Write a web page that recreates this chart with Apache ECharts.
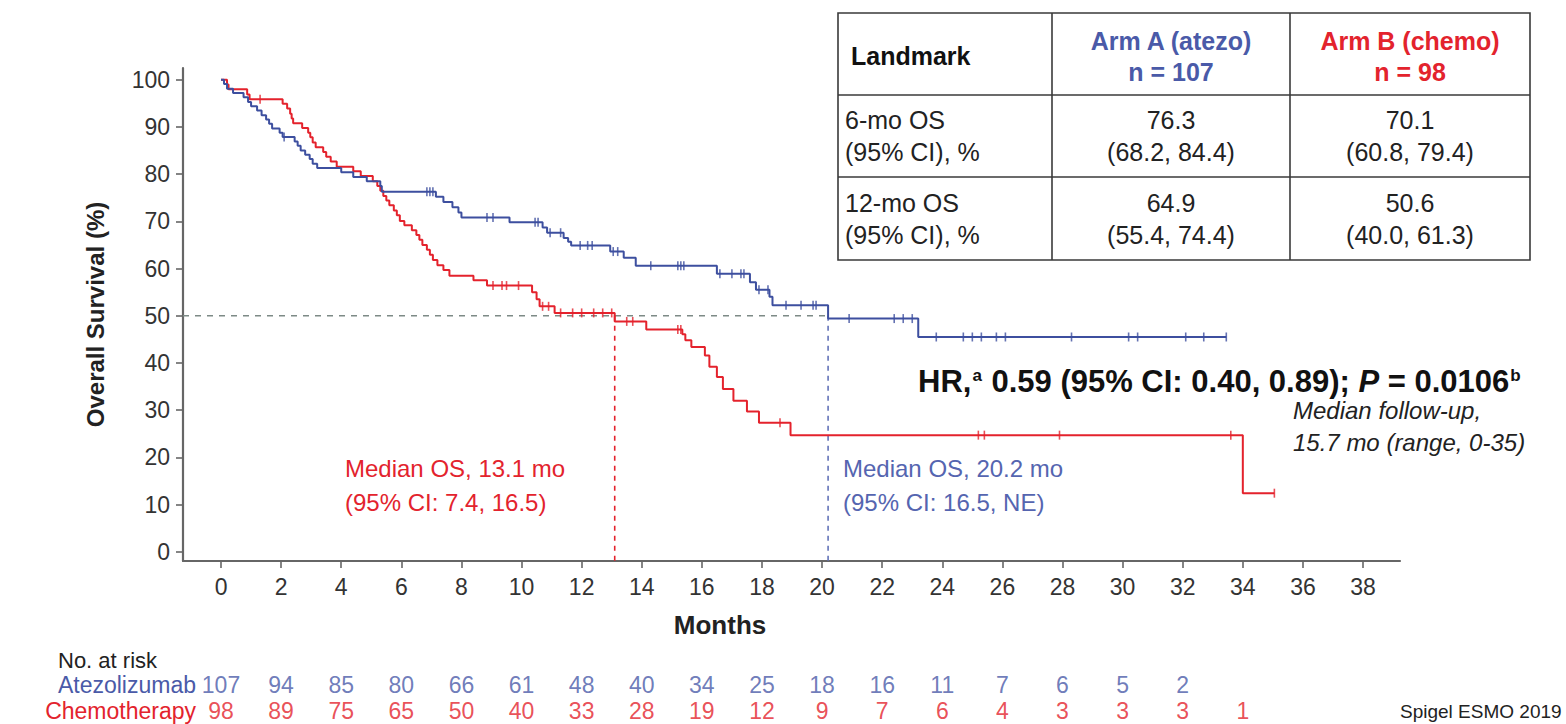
<!DOCTYPE html>
<html>
<head>
<meta charset="utf-8">
<script src="https://cdn.jsdelivr.net/npm/echarts@6/dist/echarts.min.js"></script>
<style>
  html, body { margin: 0; padding: 0; background: #fff; }
  #chart { width: 1566px; height: 724px; }
</style>
</head>
<body>
<div id="chart"></div>
<script>
// ---- Data -------------------------------------------------------------
const monthTicks = [0, 2, 4, 6, 8, 10, 12, 14, 16, 18, 20, 22, 24, 26, 28, 30, 32, 34, 36, 38];
const survivalTicks = [0, 10, 20, 30, 40, 50, 60, 70, 80, 90, 100];

// Kaplan-Meier steps: [month of event, survival % after the event]
const atezoCurve = [
  [0, 100], [0.1, 99.1], [0.2, 98.1], [0.4, 97.2], [0.75, 96.3], [0.9, 95.3], [1.0, 94.4],
  [1.2, 93.5], [1.35, 92.5], [1.5, 91.6], [1.6, 90.7], [1.7, 89.7], [1.95, 88.8], [2.05, 87.9],
  [2.45, 86.9], [2.55, 86.0], [2.65, 85.0], [2.8, 84.1], [2.95, 83.2], [3.05, 82.2], [3.2, 81.3],
  [4.0, 80.4], [4.4, 79.4], [4.85, 78.5], [5.3, 77.5], [5.35, 76.3],
  [7.15, 75.2], [7.4, 74.1], [7.7, 73.0], [7.9, 71.9], [8.0, 70.8],
  [9.6, 69.8], [10.7, 68.7], [10.85, 67.6], [11.4, 66.5], [11.55, 65.7], [11.65, 64.9],
  [12.95, 63.6], [13.4, 62.3], [13.8, 60.6],
  [16.5, 58.9], [17.6, 57.1], [17.8, 55.5], [18.25, 54.0], [18.35, 52.2],
  [20.2, 49.4], [23.2, 45.5]
];
const chemoCurve = [
  [0, 100], [0.2, 99.0], [0.25, 98.0], [0.87, 96.9], [0.95, 95.9],
  [2.05, 94.9], [2.2, 93.9], [2.3, 92.8], [2.35, 91.8], [2.4, 90.8], [2.7, 89.8], [2.9, 88.8],
  [2.97, 87.8], [3.05, 86.7], [3.15, 85.7], [3.4, 84.7], [3.5, 83.7], [3.65, 82.7], [3.85, 81.6],
  [4.4, 80.6], [4.65, 79.6], [5.05, 78.5], [5.2, 77.5], [5.3, 76.5], [5.4, 75.4], [5.5, 74.4],
  [5.6, 73.4], [5.75, 72.3], [5.85, 71.3], [5.95, 70.1], [6.1, 69.2], [6.35, 68.1], [6.5, 67.1],
  [6.6, 66.1], [6.7, 65.0], [6.85, 64.0], [6.95, 62.9], [7.05, 61.8], [7.2, 60.7], [7.4, 59.7],
  [7.6, 58.5], [8.4, 57.5], [8.85, 56.4],
  [10.35, 55.0], [10.5, 53.5], [10.6, 52.0], [11.1, 50.6],
  [13.1, 48.8], [14.15, 47.1], [15.35, 46.1], [15.45, 44.8], [15.65, 43.4],
  [16.1, 41.6], [16.25, 39.2], [16.5, 37.0], [16.7, 34.5], [17.05, 32.0], [17.5, 29.7],
  [17.9, 27.3], [18.95, 24.7], [34.0, 12.4]
];
// Censoring times (tick marks on the curves)
const atezoCensored = [
  2.1, 6.85, 6.95, 7.05, 8.85, 9.05, 10.45, 10.55, 10.95, 11.3, 11.95, 12.2, 12.35, 13.05, 13.2,
  14.3, 15.2, 15.3, 15.4, 16.6, 17.0, 17.3, 17.4, 17.9, 18.2, 18.8, 19.3, 19.7, 19.8, 20.9,
  22.4, 22.7, 23.0, 23.8, 24.7, 25.0, 25.3, 25.8, 26.1, 28.3, 30.2, 30.5, 32.1, 32.7, 33.45
];
const chemoCensored = [
  1.3, 9.05, 9.35, 9.5, 9.9, 10.7, 10.9, 11.3, 11.7, 12.0, 12.4, 12.7, 13.0, 13.5, 13.7,
  15.2, 15.3, 18.6, 25.2, 25.4, 27.9, 33.6, 35.05
];

// Number at risk
const riskMonths = [0, 2, 4, 6, 8, 10, 12, 14, 16, 18, 20, 22, 24, 26, 28, 30, 32, 34];
const atezoAtRisk = [107, 94, 85, 80, 66, 61, 48, 40, 34, 25, 18, 16, 11, 7, 6, 5, 2];
const chemoAtRisk = [98, 89, 75, 65, 50, 40, 33, 28, 19, 12, 9, 7, 6, 4, 3, 3, 3, 1];
const armNames = ['Atezolizumab', 'Chemotherapy'];

// Medians
const medianLevel = 50;
const medianAtezo = 20.2;
const medianChemo = 13.1;

// Landmark table
const landmarkHeader = ['Landmark', 'Arm A (atezo)\nn = 107', 'Arm B (chemo)\nn = 98'];
const landmarkRows = [
  ['6-mo OS\n(95% CI), %', '76.3\n(68.2, 84.4)', '70.1\n(60.8, 79.4)'],
  ['12-mo OS\n(95% CI), %', '64.9\n(55.4, 74.4)', '50.6\n(40.0, 61.3)']
];

// ---- Styling ----------------------------------------------------------
const FONT = '"Liberation Sans", Arial, sans-serif';
const BLUE = '#3d4f9f';
const BLUE_TXT = '#4a5aa8';
const RED = '#e4222c';
const RED_TXT = '#e3232d';
const AXIS = '#666';
const X_MIN = -1.265, X_MAX = 39.23;
const Y_MIN = -1.97, Y_MAX = 102.5;

function survivalAt(curve, t) {
  let s = curve[0][1];
  for (const [x, y] of curve) { if (x <= t) s = y; else break; }
  return s;
}
function extendTo(curve, censored) {
  const last = censored[censored.length - 1];
  return curve.concat([[last, survivalAt(curve, last)]]);
}

// ---- Landmark table as graphic elements ------------------------------
const TB = { left: 838, right: 1530, top: 13, bottom: 260, cols: [1052, 1290], rows: [95, 177] };
function tableGraphics() {
  const els = [];
  const stroke = { stroke: '#3a3a3a', lineWidth: 1.6 };
  els.push({ type: 'rect', shape: { x: TB.left, y: TB.top, width: TB.right - TB.left, height: TB.bottom - TB.top },
             style: Object.assign({ fill: '#fff' }, stroke), z: 10 });
  TB.cols.forEach(x => els.push({ type: 'line', shape: { x1: x, y1: TB.top, x2: x, y2: TB.bottom }, style: stroke, z: 11 }));
  TB.rows.forEach(y => els.push({ type: 'line', shape: { x1: TB.left, y1: y, x2: TB.right, y2: y }, style: stroke, z: 11 }));
  const xs = [TB.left, TB.cols[0], TB.cols[1], TB.right];
  const ys = [TB.top, TB.rows[0], TB.rows[1], TB.bottom];
  const headColors = ['#111', BLUE_TXT, RED_TXT];
  landmarkHeader.forEach((t, c) => {
    els.push({ type: 'text', z: 12,
      x: c === 0 ? xs[0] + 13 : (xs[c] + xs[c + 1]) / 2, y: (ys[0] + ys[1]) / 2 + 2,
      style: { text: t, fill: headColors[c], font: 'bold 25px ' + FONT, lineHeight: 31,
               align: c === 0 ? 'left' : 'center', verticalAlign: 'middle' } });
  });
  landmarkRows.forEach((row, r) => {
    row.forEach((t, c) => {
      els.push({ type: 'text', z: 12,
        x: c === 0 ? xs[0] + 7 : (xs[c] + xs[c + 1]) / 2, y: (ys[r + 1] + ys[r + 2]) / 2,
        style: { text: t, fill: '#222', font: '25px ' + FONT, lineHeight: 32,
                 align: c === 0 ? 'left' : 'center', verticalAlign: 'middle' } });
    });
  });
  return els;
}

// ---- Chart -----------------------------------------------------------
const chart = echarts.init(document.getElementById('chart'), null, { renderer: 'svg' });

const censorSeries = (name, curve, times, color) => ({
  name, type: 'scatter', xAxisIndex: 0, yAxisIndex: 0,
  data: times.map(t => [t, survivalAt(curve, t)]),
  symbol: 'rect', symbolSize: [1.6, 9],
  itemStyle: { color }, z: 4, silent: true
});

const riskSeries = (arm, counts, color) => ({
  type: 'scatter', xAxisIndex: 1, yAxisIndex: 1,
  data: counts.map((n, i) => [riskMonths[i], arm, n]),
  symbolSize: 1, itemStyle: { color: 'rgba(0,0,0,0)' },
  label: { show: true, position: 'inside', formatter: p => String(p.value[2]),
           color, fontSize: 23, fontFamily: FONT },
  silent: true
});

const option = {
  animation: false,
  backgroundColor: '#fff',
  textStyle: { fontFamily: FONT },
  grid: [
    { left: 183, right: 166, top: 68, bottom: 163 },
    { left: 183, right: 166, top: 672, height: 52 }
  ],
  xAxis: [
    {
      type: 'value', gridIndex: 0, min: X_MIN, max: X_MAX,
      axisLine: { show: true, onZero: false, lineStyle: { color: AXIS, width: 2.2 } },
      axisTick: { show: true, length: 7, customValues: monthTicks, lineStyle: { color: AXIS, width: 1.6 } },
      axisLabel: { customValues: monthTicks, fontSize: 23, color: '#333', margin: 14, fontFamily: FONT },
      splitLine: { show: false }
    },
    { type: 'value', gridIndex: 1, min: X_MIN, max: X_MAX, show: false }
  ],
  yAxis: [
    {
      type: 'value', gridIndex: 0, min: Y_MIN, max: Y_MAX,
      name: 'Overall Survival (%)', nameLocation: 'middle', nameGap: 76,
      nameTextStyle: { fontSize: 24, fontWeight: 'bold', color: '#222', fontFamily: FONT },
      axisLine: { show: true, onZero: false, lineStyle: { color: AXIS, width: 2.2 } },
      axisTick: { show: true, length: 7, customValues: survivalTicks, lineStyle: { color: AXIS, width: 1.6 } },
      axisLabel: { customValues: survivalTicks, fontSize: 23, color: '#333', margin: 13, fontFamily: FONT },
      splitLine: { show: false }
    },
    {
      type: 'category', gridIndex: 1, data: armNames, inverse: true,
      axisLine: { show: false }, axisTick: { show: false },
      axisLabel: {
        interval: 0, margin: -13, fontSize: 23, fontFamily: FONT,
        formatter: v => v === armNames[0] ? '{a|' + v + '}' : '{c|' + v + '}',
        rich: { a: { color: BLUE_TXT, fontSize: 23, fontFamily: FONT }, c: { color: RED_TXT, fontSize: 23, fontFamily: FONT } }
      }
    }
  ],
  series: [
    // median reference lines
    { type: 'line', xAxisIndex: 0, yAxisIndex: 0, symbol: 'none', silent: true, z: 1,
      data: [[X_MIN, medianLevel], [medianAtezo, medianLevel]],
      lineStyle: { color: '#7d8a86', width: 1.5, type: [6, 6] } },
    { type: 'line', xAxisIndex: 0, yAxisIndex: 0, symbol: 'none', silent: true, z: 1,
      data: [[medianChemo, medianLevel], [medianChemo, Y_MIN]],
      lineStyle: { color: RED, width: 1.6, type: [5, 5] } },
    { type: 'line', xAxisIndex: 0, yAxisIndex: 0, symbol: 'none', silent: true, z: 1,
      data: [[medianAtezo, medianLevel], [medianAtezo, Y_MIN]],
      lineStyle: { color: '#6272b8', width: 1.6, type: [5, 5] } },
    // survival curves
    { name: armNames[1], type: 'line', step: 'end', xAxisIndex: 0, yAxisIndex: 0, symbol: 'none', z: 3,
      data: extendTo(chemoCurve, chemoCensored), lineStyle: { color: RED, width: 2 } },
    { name: armNames[0], type: 'line', step: 'end', xAxisIndex: 0, yAxisIndex: 0, symbol: 'none', z: 3,
      data: extendTo(atezoCurve, atezoCensored), lineStyle: { color: BLUE, width: 2 } },
    censorSeries('atezoCensor', atezoCurve, atezoCensored, BLUE),
    censorSeries('chemoCensor', chemoCurve, chemoCensored, RED),
    // number at risk
    riskSeries(armNames[0], atezoAtRisk, BLUE_TXT),
    riskSeries(armNames[1], chemoAtRisk, RED_TXT)
  ],
  graphic: [
    { type: 'text', x: 720, y: 625, style: { text: 'Months', font: 'bold 26px ' + FONT, fill: '#222', align: 'center', verticalAlign: 'middle' } },
    { type: 'text', x: 58, y: 660, style: { text: 'No. at risk', font: '22px ' + FONT, fill: '#222', align: 'left', verticalAlign: 'middle' } },
    { type: 'text', x: 345, y: 485, style: { text: 'Median OS, 13.1 mo\n(95% CI: 7.4, 16.5)', font: '24px ' + FONT, lineHeight: 34, fill: RED_TXT, align: 'left', verticalAlign: 'middle' } },
    { type: 'text', x: 843, y: 485, style: { text: 'Median OS, 20.2 mo\n(95% CI: 16.5, NE)', font: '24px ' + FONT, lineHeight: 34, fill: '#5565b0', align: 'left', verticalAlign: 'middle' } },
    { type: 'text', x: 1293, y: 426, style: { text: 'Median follow-up,\n15.7 mo (range, 0-35)', font: 'italic 24px ' + FONT, lineHeight: 32, fill: '#222', align: 'left', verticalAlign: 'middle' } },
    { type: 'text', x: 918, y: 381, style: {
        text: '{b|HR,}{s|a}{b| 0.59 (95% CI: 0.40, 0.89); }{i|P}{b| = 0.0106}{s|b}',
        align: 'left', verticalAlign: 'middle',
        rich: {
          b: { fontSize: 31, fontWeight: 'bold', fontFamily: FONT, fill: '#111', lineHeight: 28 },
          i: { fontSize: 31, fontWeight: 'bold', fontStyle: 'italic', fontFamily: FONT, fill: '#111', lineHeight: 28 },
          s: { fontSize: 17, fontWeight: 'bold', fontFamily: FONT, fill: '#111', lineHeight: 28, verticalAlign: 'top', padding: [0, 1, 10, 1] }
        } } },
    { type: 'text', x: 1400, y: 711, style: { text: 'Spigel ESMO 2019', font: '19px ' + FONT, fill: '#222', align: 'left', verticalAlign: 'middle' } }
  ].concat(tableGraphics())
};

chart.setOption(option);
</script>
</body>
</html>
